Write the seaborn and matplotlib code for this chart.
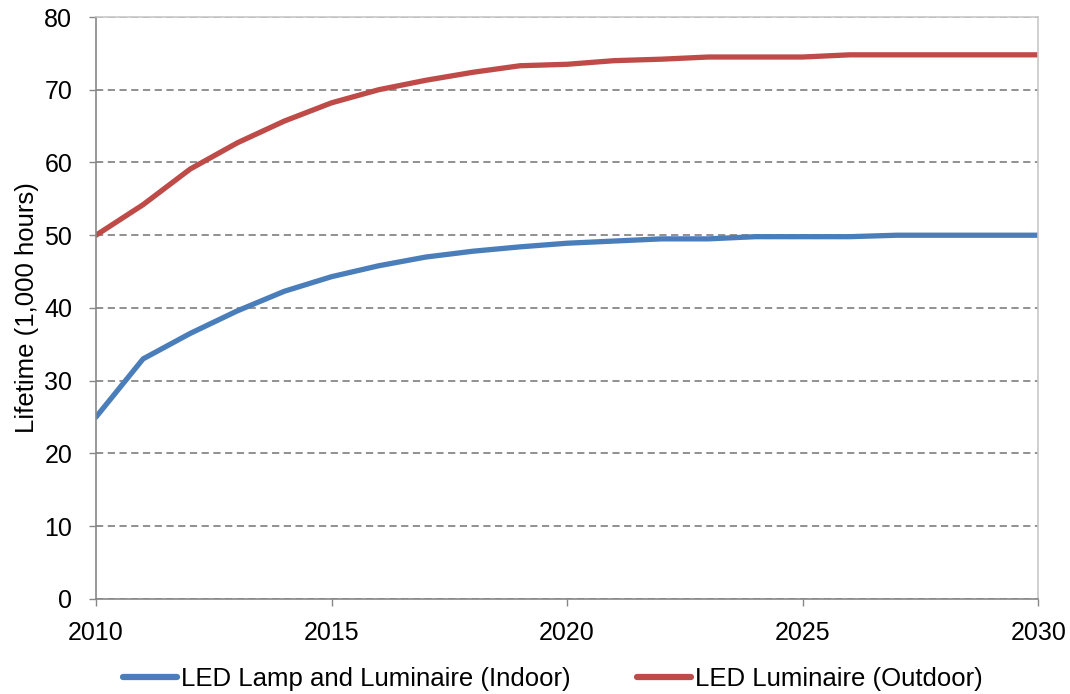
import pandas as pd
import seaborn as sns
import matplotlib.pyplot as plt

# Data
years = list(range(2010, 2031))
indoor = [25.0, 33.0, 36.5, 39.6, 42.3, 44.3, 45.8, 47.0, 47.8, 48.4, 48.9,
          49.2, 49.5, 49.5, 49.8, 49.8, 49.8, 50.0, 50.0, 50.0, 50.0]
outdoor = [50.0, 54.2, 59.1, 62.7, 65.7, 68.2, 70.0, 71.3, 72.4, 73.3, 73.5,
           74.0, 74.2, 74.5, 74.5, 74.5, 74.8, 74.8, 74.8, 74.8, 74.8]
series_names = ["LED Lamp and Luminaire (Indoor)", "LED Luminaire (Outdoor)"]
colors = ["#4A7EBB", "#BE4B48"]

df = pd.concat([
    pd.DataFrame({"Year": years, "Lifetime": indoor, "Series": series_names[0]}),
    pd.DataFrame({"Year": years, "Lifetime": outdoor, "Series": series_names[1]}),
])

sns.set_style("white")
plt.rcParams["font.family"] = ["Liberation Sans", "DejaVu Sans"]
plt.rcParams["text.color"] = "black"

fig = plt.figure(figsize=(10.7, 6.94), dpi=100)
ax = fig.add_axes([0.0897, 0.137, 0.8806, 0.8385])

sns.lineplot(data=df, x="Year", y="Lifetime", hue="Series",
             palette=dict(zip(series_names, colors)), linewidth=3.8,
             solid_capstyle="round", ax=ax)

ax.set_xlim(2010, 2030)
ax.set_ylim(0, 80)
ax.set_xticks(range(2010, 2031, 5))
ax.set_yticks(range(0, 81, 10))
ax.tick_params(axis="both", labelsize=18, length=5, width=1, color="#888888",
               labelcolor="black", direction="out", bottom=True, left=True)
ax.tick_params(axis="x", pad=11)
ax.tick_params(axis="y", pad=12)
ax.set_xlabel("")
ax.set_ylabel("Lifetime (1,000 hours)", fontsize=18.5, labelpad=4, color="black")

# dashed horizontal gridlines like the original
ax.yaxis.grid(True, linestyle=(0, (4, 2.5)), color="#888888", linewidth=1.3)
ax.set_axisbelow(True)
for side in ["left", "bottom"]:
    ax.spines[side].set_color("#888888")
    ax.spines[side].set_linewidth(1.2)
for side in ["top", "right"]:
    ax.spines[side].set_color("#c8c8c8")
    ax.spines[side].set_linewidth(1.2)

leg = ax.legend(loc="center", bbox_to_anchor=(0.485, -0.137), ncol=2,
                frameon=False, fontsize=18.5, handlelength=2.1,
                handletextpad=0.15, columnspacing=2.6)
for line in leg.get_lines():
    line.set_solid_capstyle("round")
    line.set_linewidth(4.5)

fig.savefig("out.png", dpi=100)
